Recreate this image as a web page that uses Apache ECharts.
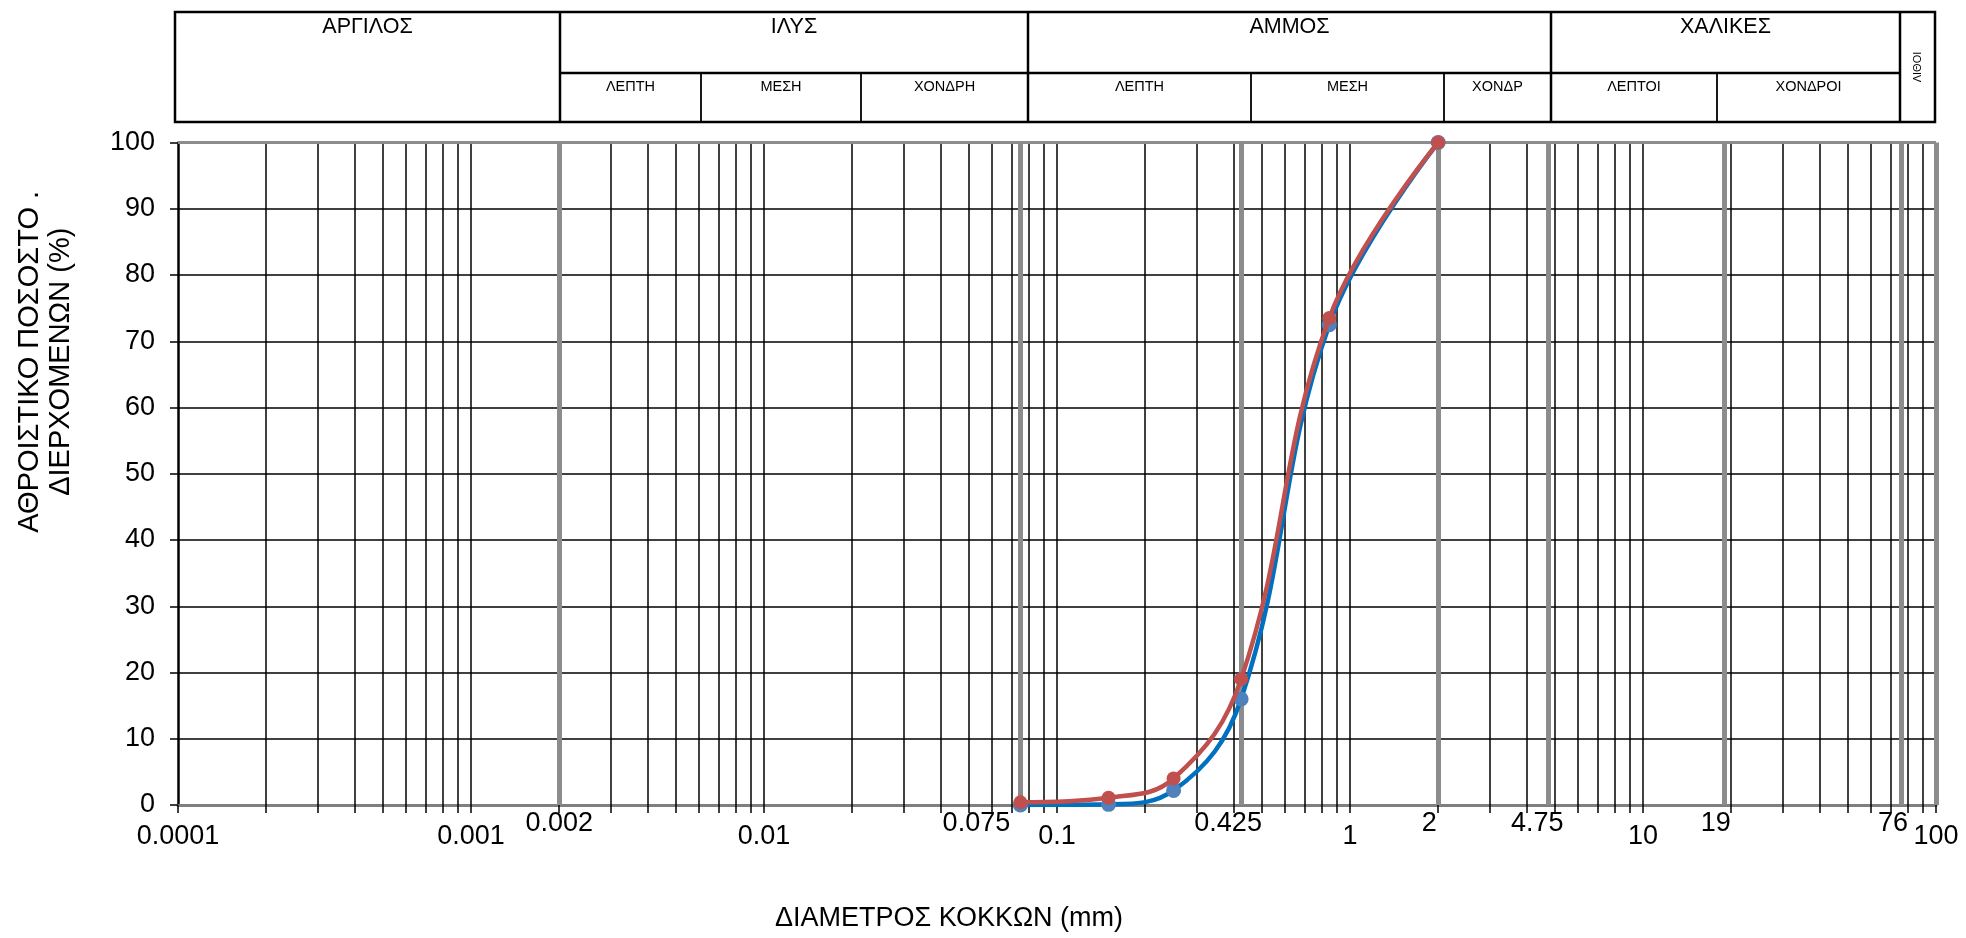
<!DOCTYPE html>
<html>
<head>
<meta charset="utf-8">
<script src="https://cdn.jsdelivr.net/npm/echarts@6/dist/echarts.min.js"></script>
<style>html,body{margin:0;padding:0;background:#fff}#c{width:1966px;height:938px}</style>
</head>
<body>
<div id="c"></div>
<script>
// ---------- data ----------
const sieveSizes = [0.075, 0.15, 0.25, 0.425, 0.85, 2];          // mm
const passingBlue = [0, 0.1, 2.2, 16, 72.5, 100];                  // %
const passingRed  = [0.4, 1.1, 4, 19, 73.5, 100];                  // %
const decadeTicks = [0.0001, 0.001, 0.01, 0.1, 1, 10, 100];
const boundaryTicks = [0.002, 0.075, 0.425, 2, 4.75, 19, 76];
const mainClasses = ['ΑΡΓΙΛΟΣ', 'ΙΛΥΣ', 'ΑΜΜΟΣ', 'ΧΑΛΙΚΕΣ', 'ΛΙΘΟΙ'];
const subClasses = ['ΛΕΠΤΗ', 'ΜΕΣΗ', 'ΧΟΝΔΡΗ', 'ΛΕΠΤΗ', 'ΜΕΣΗ', 'ΧΟΝΔΡ', 'ΛΕΠΤΟΙ', 'ΧΟΝΔΡΟΙ'];
const yTitle = ['ΑΘΡΟΙΣΤΙΚΟ ΠΟΣΟΣΤΟ .', 'ΔΙΕΡΧΟΜΕΝΩΝ (%)'];
const xTitle = 'ΔΙΑΜΕΤΡΟΣ ΚΟΚΚΩΝ (mm)';

// ---------- layout / style ----------
const FONT = '"Liberation Sans", Arial, sans-serif';
const labelShift = {0.002: 0, 0.075: -44, 0.425: -13, 2: -9, 4.75: -11, 19: -9, 76: -8};
const HDR = {left: 175, right: 1935, top: 12, mid: 73, bottom: 122};
const mainEdges = [175, 560, 1028, 1551, 1900, 1935];
const subEdges = [560, 701, 861, 1028, 1251, 1444, 1551, 1717, 1900];

// log-paper lines (m x 10^k) between the plot edges
const minorLines = [];
for (let k = -4; k <= 1; k++) {
  for (let m = 1; m <= 9; m++) {
    if (m === 1 && k === -4) continue;
    minorLines.push(+(m * Math.pow(10, k)).toPrecision(6));
  }
}

function fmt(v) { return String(+(+v).toPrecision(6)); }

// header graphic
const graphic = [];
graphic.push({type: 'rect', silent: true, shape: {x: HDR.left, y: HDR.top, width: HDR.right - HDR.left, height: HDR.bottom - HDR.top},
  style: {fill: 'none', stroke: '#000', lineWidth: 2.5}});
mainEdges.slice(1, -1).forEach(x => graphic.push({type: 'line', silent: true,
  shape: {x1: x, y1: HDR.top, x2: x, y2: HDR.bottom}, style: {stroke: '#000', lineWidth: 2.5}}));
graphic.push({type: 'line', silent: true, shape: {x1: mainEdges[1], y1: HDR.mid, x2: mainEdges[4], y2: HDR.mid},
  style: {stroke: '#000', lineWidth: 2.5}});
subEdges.forEach(x => graphic.push({type: 'line', silent: true,
  shape: {x1: x, y1: HDR.mid, x2: x, y2: HDR.bottom}, style: {stroke: '#000', lineWidth: 1.8}}));
mainClasses.forEach((t, i) => {
  const cx = (mainEdges[i] + mainEdges[i + 1]) / 2;
  if (i === 4) {
    graphic.push({type: 'text', silent: true, x: cx, y: 67, rotation: Math.PI / 2,
      style: {text: t, fill: '#000', font: '11px ' + FONT, textAlign: 'center', textVerticalAlign: 'middle', align: 'center', verticalAlign: 'middle'}});
  } else {
    graphic.push({type: 'text', silent: true, x: cx, y: 27,
      style: {text: t, fill: '#000', font: '21.5px ' + FONT, textAlign: 'center', textVerticalAlign: 'middle', align: 'center', verticalAlign: 'middle'}});
  }
});
subClasses.forEach((t, i) => {
  const cx = (subEdges[i] + subEdges[i + 1]) / 2;
  graphic.push({type: 'text', silent: true, x: cx, y: 87,
    style: {text: t, fill: '#000', font: '14.5px ' + FONT, textAlign: 'center', textVerticalAlign: 'middle', align: 'center', verticalAlign: 'middle'}});
});

const chart = echarts.init(document.getElementById('c'), null, {renderer: 'canvas'});
chart.setOption({
  animation: false,
  backgroundColor: '#fff',
  textStyle: {fontFamily: FONT, color: '#000'},
  grid: {left: 178, right: 30, top: 142.5, bottom: 133, containLabel: false},
  graphic: graphic,
  xAxis: {
    type: 'log', logBase: 10, min: 0.0001, max: 100, splitNumber: 6,
    name: xTitle, nameLocation: 'middle', nameGap: 100,
    nameTextStyle: {fontSize: 27, color: '#000', fontFamily: FONT, padding: [0, 216, 0, 0]},
    axisLine: {show: true, lineStyle: {color: '#7f7f7f', width: 3}},
    axisTick: {show: true, length: 8, lineStyle: {color: '#000', width: 1.5}},
    minorTick: {show: true, splitNumber: 9, length: 8, lineStyle: {color: '#000', width: 1.5}},
    axisLabel: {show: true, margin: 18, fontSize: 27, color: '#000', fontFamily: FONT, formatter: fmt,
      showMinLabel: true, showMaxLabel: true},
    splitLine: {show: false}
  },
  yAxis: {
    type: 'value', min: 0, max: 100, interval: 10,
    name: yTitle.join('\n'), nameLocation: 'middle', nameRotate: 90, nameGap: 102,
    nameTextStyle: {fontSize: 29, lineHeight: 31, color: '#000', fontFamily: FONT, align: 'center', padding: [0, 0, 0, 224]},
    axisLine: {show: true, lineStyle: {color: '#000', width: 2.5}},
    axisTick: {show: true, inside: false, length: 8, lineStyle: {color: '#000', width: 1.5}},
    axisLabel: {margin: 23, fontSize: 27, color: '#000', fontFamily: FONT},
    splitLine: {show: true, lineStyle: {color: '#000', width: 1.5}}
  },
  series: [
    {
      type: 'line', name: 'grid-minor', data: [], silent: true, z: 1,
      markLine: {
        silent: true, z: 1, precision: 10, symbol: ['none', 'none'], animation: false,
        label: {show: false}, emphasis: {disabled: true},
        lineStyle: {color: '#000', width: 1.5, type: 'solid'},
        data: minorLines.map(v => ({xAxis: v}))
      }
    },
    {
      type: 'line', name: 'grid-bounds', data: [], silent: true, z: 2,
      markLine: {
        silent: true, z: 2, precision: 10, symbol: ['none', 'none'], animation: false,
        emphasis: {disabled: true},
        lineStyle: {color: '#8c8c8c', width: 5, type: 'solid'},
        label: {show: true, position: 'start', distance: 5, color: '#000', fontSize: 27, fontFamily: FONT, formatter: '{b}'},
        data: boundaryTicks.map(v => ({xAxis: v, name: fmt(v), label: {offset: [labelShift[v] || 0, 0]}}))
          .concat([
            {xAxis: 100, name: '', label: {show: false}},
            {yAxis: 100, name: '', label: {show: false}, lineStyle: {width: 3, color: '#8c8c8c'}}
          ])
      }
    },
    {
      type: 'line', name: 'Δείγμα 1', z: 10,
      data: sieveSizes.map((d, i) => [d, passingBlue[i]]),
      smooth: 0.4, symbol: 'circle', symbolSize: 15,
      lineStyle: {color: '#0070C0', width: 4.5},
      itemStyle: {color: '#4F81BD'}
    },
    {
      type: 'line', name: 'Δείγμα 2', z: 11,
      data: sieveSizes.map((d, i) => [d, passingRed[i]]),
      smooth: 0.4, symbol: 'circle', symbolSize: 14,
      lineStyle: {color: '#C0504D', width: 4.5},
      itemStyle: {color: '#C0504D'}
    }
  ]
});
</script>
</body>
</html>
